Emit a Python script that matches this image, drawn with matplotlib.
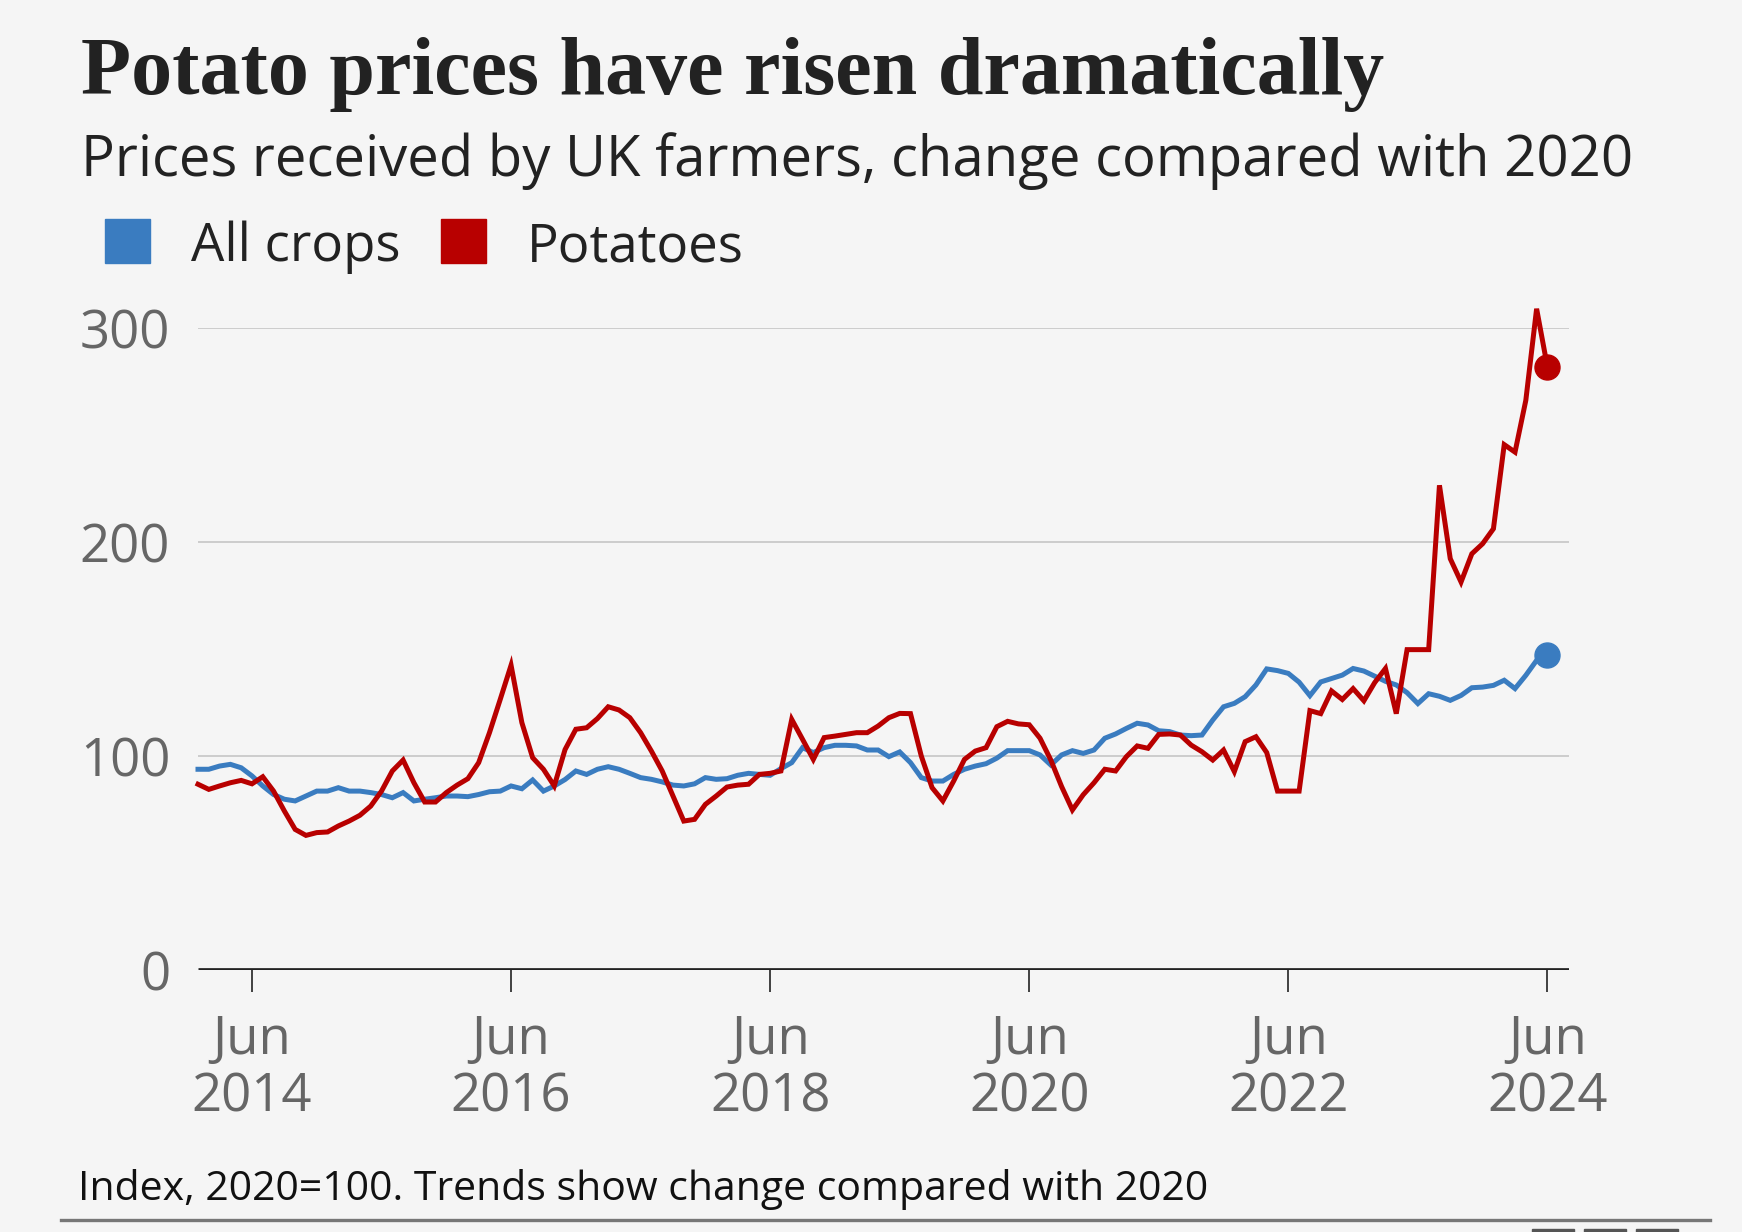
import matplotlib
matplotlib.use("Agg")
import matplotlib.pyplot as plt
from matplotlib.patches import Rectangle

# ---------------- data (monthly, Jan 2014 - Jun 2024, index 2020=100) ----------------
all_crops = [
    93.8, 93.8, 95.3, 96.1, 94.5, 90.7, 86.0, 82.0, 79.8, 79.0, 81.3, 83.6,
    83.6, 85.2, 83.6, 83.6, 82.9, 82.0, 80.5, 82.9, 79.0, 79.8, 80.5, 81.3,
    81.3, 81.0, 82.0, 83.3, 83.6, 86.0, 84.7, 88.8, 83.6, 86.0, 89.0, 93.0,
    91.4, 93.8, 95.0, 93.8, 91.9, 89.9, 89.1, 87.9, 86.4, 86.0, 87.0, 89.9,
    89.1, 89.4, 91.0, 91.9, 91.4, 91.0, 94.1, 96.9, 103.9, 101.6, 103.9, 105.0,
    105.0, 104.7, 102.8, 102.8, 99.7, 101.9, 96.9, 89.9, 88.3, 88.3, 91.4, 93.8,
    95.3, 96.4, 99.0, 102.5, 102.5, 102.5, 100.5, 95.8, 100.5, 102.5, 101.2, 102.8,
    108.3, 110.3, 112.9, 115.3, 114.5, 111.8, 111.4, 109.8, 109.5, 109.8, 116.8, 123.0,
    124.6, 127.7, 133.2, 140.7, 139.9, 138.6, 134.5, 128.2, 134.6, 136.2, 137.8, 140.9,
    139.7, 137.3, 134.9, 133.2, 129.6, 124.5, 129.1, 127.9, 126.0, 128.3, 131.9, 132.2,
    133.0, 135.4, 131.5, 137.7, 144.7, 147.0,
]
potatoes = [
    86.8, 84.4, 86.0, 87.5, 88.6, 87.0, 90.3, 83.6, 74.3, 65.7, 62.9, 64.2,
    64.5, 67.3, 69.6, 72.3, 76.6, 83.6, 93.0, 98.1, 87.5, 78.5, 78.5, 82.9,
    86.4, 89.4, 96.9, 110.9, 126.5, 142.4, 115.6, 99.2, 93.8, 86.0, 103.0, 112.5,
    113.2, 117.5, 123.0, 121.5, 117.9, 110.9, 102.3, 93.0, 81.3, 69.6, 70.4, 77.4,
    81.3, 85.5, 86.4, 86.8, 91.4, 91.9, 93.0, 117.1, 107.8, 98.4, 108.6, 109.3,
    110.1, 110.9, 110.9, 114.0, 117.9, 119.9, 119.8, 100.0, 85.2, 79.0, 88.3, 98.4,
    102.3, 103.9, 113.7, 116.2, 115.0, 114.6, 108.3, 98.1, 85.7, 74.8, 81.9, 87.5,
    93.8, 93.0, 99.7, 104.7, 103.6, 110.1, 110.3, 109.8, 105.1, 102.0, 98.1, 102.8,
    92.7, 106.7, 109.0, 101.6, 83.6, 83.6, 83.6, 121.2, 119.8, 130.4, 126.4, 131.5,
    125.8, 134.3, 140.9, 119.8, 149.7, 149.7, 149.7, 226.5, 192.2, 181.3, 194.5, 199.2,
    206.2, 245.5, 242.0, 266.2, 309.0, 281.8,
]
series_names = ["All crops", "Potatoes"]
x_tick_months = [5, 29, 53, 77, 101, 125]
x_tick_labels = ["Jun\n2014", "Jun\n2016", "Jun\n2018", "Jun\n2020", "Jun\n2022", "Jun\n2024"]
y_ticks = [0, 100, 200, 300]

title = "Potato prices have risen dramatically"
subtitle = "Prices received by UK farmers, change compared with 2020"
footnote = "Index, 2020=100. Trends show change compared with 2020"

# ---------------- style ----------------
BG = "#f5f5f5"
BLUE = "#3a7cc0"
RED = "#b80000"
W, H = 1742, 1232
SANS = ["Open Sans", "DejaVu Sans"]

fig = plt.figure(figsize=(W / 100, H / 100), dpi=100, facecolor=BG)

def fx(px):
    return px / W

def fy(py):
    return 1 - py / H

# axes: left 198, right 1569, y=300 at 328, y=0 at 970
ax = fig.add_axes([fx(198), fy(970), fx(1569) - fx(198), fy(328) - fy(970)])
ax.set_facecolor(BG)
months = list(range(len(all_crops)))

ax.set_xlim(0, 127)
ax.set_ylim(0, 300)

for v in y_ticks[1:]:
    ax.axhline(v, color="#cccccc", lw=1.4, zorder=1)
ax.axhline(0, color="#222222", lw=3.4, zorder=4, solid_capstyle="butt")

ax.plot(months, all_crops, color=BLUE, lw=3.6, zorder=3, clip_on=False,
        solid_joinstyle="miter")
ax.plot(months, potatoes, color=RED, lw=3.6, zorder=3, clip_on=False,
        solid_joinstyle="miter")
ax.plot(months[-1], all_crops[-1], "o", color=BLUE, ms=18, zorder=5, clip_on=False)
ax.plot(months[-1], potatoes[-1], "o", color=RED, ms=18, zorder=5, clip_on=False)

for s in ax.spines.values():
    s.set_visible(False)

ax.set_yticks(y_ticks)
ax.set_yticklabels([str(v) for v in y_ticks], fontsize=38, color="#666666",
                   family=SANS)
ax.tick_params(axis="y", length=0, pad=20)

ax.set_xticks(x_tick_months)
ax.set_xticklabels(x_tick_labels, fontsize=38, color="#666666", family=SANS,
                   linespacing=1.12)
ax.tick_params(axis="x", length=16, width=1.3, color="#333333", pad=15)

# ---------------- texts ----------------
fig.text(fx(81), fy(94), title, fontsize=59, fontweight="bold",
         family=["Liberation Serif", "DejaVu Serif"], color="#222222",
         va="baseline", ha="left")
fig.text(fx(81), fy(176), subtitle, fontsize=40.5, family=SANS, color="#222222",
         va="baseline", ha="left")

fig.patches.append(Rectangle((fx(105), fy(263)), fx(45), 44 / H, transform=fig.transFigure,
                             color=BLUE, figure=fig))
fig.text(fx(191), fy(261), series_names[0], fontsize=38, family=SANS, color="#222222",
         va="baseline", ha="left")
fig.patches.append(Rectangle((fx(441), fy(263)), fx(45), 44 / H, transform=fig.transFigure,
                             color=RED, figure=fig))
fig.text(fx(527), fy(261), series_names[1], fontsize=38, family=SANS, color="#222222",
         va="baseline", ha="left")

fig.text(fx(78), fy(1200), footnote, fontsize=29.5, family=SANS, color="#111111",
         va="baseline", ha="left")

fig.add_artist(plt.Line2D([fx(61), fx(1710)], [fy(1220), fy(1220)], color="#777777",
                          lw=2.4, transform=fig.transFigure))
for bx in (1532, 1584, 1636):
    fig.patches.append(Rectangle((fx(bx), 0), fx(42), 3 / H, transform=fig.transFigure,
                                 color="#555555", figure=fig))

fig.savefig("out.png", dpi=100, facecolor=BG)
